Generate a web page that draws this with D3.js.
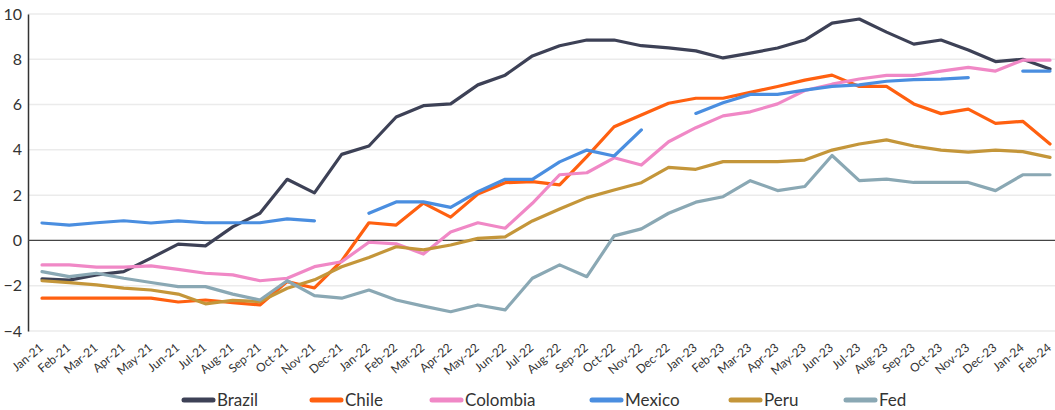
<!DOCTYPE html>
<html>
<head>
<meta charset="utf-8">
<script src="https://cdn.jsdelivr.net/npm/d3@7"></script>
<style>
  body { margin: 0; background: #fff; }
  svg { display: block; font-family: Lato, "Open Sans", sans-serif; }
</style>
</head>
<body>
<svg id="chart" width="1055" height="410"></svg>
<script>
let months = ["Jan-21","Feb-21","Mar-21","Apr-21","May-21","Jun-21","Jul-21","Aug-21","Sep-21","Oct-21","Nov-21","Dec-21",
              "Jan-22","Feb-22","Mar-22","Apr-22","May-22","Jun-22","Jul-22","Aug-22","Sep-22","Oct-22","Nov-22","Dec-22",
              "Jan-23","Feb-23","Mar-23","Apr-23","May-23","Jun-23","Jul-23","Aug-23","Sep-23","Oct-23","Nov-23","Dec-23",
              "Jan-24","Feb-24"];

let brazil = [-1.7,-1.75,-1.52,-1.38,-0.78,-0.16,-0.24,0.6,1.2,2.7,2.1,3.8,
              4.17,5.45,5.95,6.03,6.87,7.3,8.15,8.6,8.85,8.85,8.6,8.5,
              8.37,8.06,8.27,8.5,8.85,9.6,9.78,9.2,8.67,8.85,8.41,7.9,
              8.0,7.57];
let chile = [-2.55,-2.55,-2.55,-2.55,-2.55,-2.72,-2.63,-2.75,-2.85,-1.82,-2.1,-0.9,
             0.78,0.68,1.65,1.03,2.05,2.55,2.6,2.45,3.7,5.02,5.54,6.06,
             6.28,6.28,6.54,6.8,7.08,7.3,6.8,6.8,6.03,5.6,5.8,5.17,
             5.26,4.26];
let colombia = [-1.08,-1.08,-1.18,-1.18,-1.12,-1.28,-1.45,-1.52,-1.78,-1.67,-1.16,-0.94,
                -0.08,-0.15,-0.6,0.37,0.78,0.54,1.64,2.9,2.99,3.65,3.33,4.36,
                4.98,5.5,5.68,6.03,6.62,6.9,7.13,7.29,7.29,7.48,7.64,7.48,
                7.96,7.96];
let mexico = [0.77,0.68,0.78,0.87,0.77,0.86,0.78,0.78,0.78,0.95,0.86,null,
              1.2,1.7,1.7,1.46,2.15,2.7,2.7,3.47,3.99,3.73,4.88,null,
              5.61,6.08,6.45,6.45,6.64,6.8,6.87,7.03,7.1,7.12,7.19,null,
              7.48,7.48];
let peru = [-1.78,-1.86,-1.96,-2.11,-2.19,-2.37,-2.8,-2.65,-2.7,-2.11,-1.74,-1.16,
            -0.75,-0.28,-0.42,-0.2,0.09,0.16,0.86,1.39,1.89,2.23,2.55,3.23,
            3.14,3.48,3.48,3.48,3.55,3.99,4.26,4.44,4.17,3.99,3.9,3.99,
            3.92,3.67];
let fed = [-1.38,-1.6,-1.45,-1.67,-1.86,-2.04,-2.04,-2.37,-2.63,-1.78,-2.44,-2.55,
           -2.19,-2.63,-2.9,-3.15,-2.85,-3.07,-1.67,-1.08,-1.6,0.2,0.51,1.2,
           1.69,1.93,2.64,2.2,2.38,3.75,2.64,2.71,2.56,2.56,2.56,2.2,
           2.9,2.9];

let seriesNames = ["Brazil","Chile","Colombia","Mexico","Peru","Fed"];
let seriesValues = [brazil, chile, colombia, mexico, peru, fed];
let colors = ["#3d4156","#ff6010","#f088c6","#4a8ee0","#c4963a","#8aa8b4"];
let yTicks = [-4,-2,0,2,4,6,8,10];

let svg = d3.select("#chart");
let plotLeft = 28, plotRight = 1055, plotTop = 14, plotBottom = 331;

let x = d3.scalePoint().domain(months).range([42, 1050]);
let y = d3.scaleLinear().domain([-4, 10]).range([plotBottom, plotTop]);

// grid
svg.append("g")
    .selectAll("line")
    .data(yTicks.filter(d => d !== 0))
    .enter().append("line")
    .attr("x1", plotLeft).attr("x2", plotRight)
    .attr("y1", d => y(d)).attr("y2", d => y(d))
    .attr("stroke", "#ebebeb")
    .attr("stroke-width", 1.5);

// y axis
let yAxis = svg.append("g")
    .attr("transform", "translate(" + plotLeft + ",0)")
    .call(d3.axisLeft(y).tickValues(yTicks).tickSize(0).tickPadding(6));
yAxis.select(".domain").attr("stroke", "#333").attr("stroke-width", 1.5);
yAxis.selectAll("text").attr("font-size", 16).attr("fill", "#333")
    .attr("font-family", "Lato, 'Open Sans', sans-serif");

// zero line
svg.append("line")
    .attr("x1", plotLeft).attr("x2", plotRight)
    .attr("y1", y(0)).attr("y2", y(0))
    .attr("stroke", "#444").attr("stroke-width", 1.2);

// x labels
svg.append("g")
    .selectAll("text")
    .data(months)
    .enter().append("text")
    .attr("transform", d => "translate(" + (x(d) + 2) + "," + (plotBottom + 18) + ") rotate(-40)")
    .attr("text-anchor", "end")
    .attr("font-size", 12)
    .attr("fill", "#333")
    .text(d => d);

// lines
let line = d3.line()
    .defined(d => d.v !== null)
    .x(d => x(d.m))
    .y(d => y(d.v));

seriesValues.forEach((vals, i) => {
    let pts = vals.map((v, j) => ({m: months[j], v: v}));
    svg.append("path")
        .datum(pts)
        .attr("fill", "none")
        .attr("stroke", colors[i])
        .attr("stroke-width", 3.2)
        .attr("stroke-linejoin", "round")
        .attr("stroke-linecap", "round")
        .attr("d", line);
});

// legend
let legendX = [184, 312, 432, 592, 731, 846];
let legend = svg.append("g")
    .selectAll("g")
    .data(seriesNames)
    .enter().append("g")
    .attr("transform", (d, i) => "translate(" + legendX[i] + ",400)");

legend.append("line")
    .attr("x1", 0).attr("x2", 29)
    .attr("stroke", (d, i) => colors[i])
    .attr("stroke-width", 5)
    .attr("stroke-linecap", "round");

legend.append("text")
    .attr("x", 33)
    .attr("dy", "0.35em")
    .attr("font-size", 17)
    .attr("fill", "#333")
    .text(d => d);
</script>
</body>
</html>
